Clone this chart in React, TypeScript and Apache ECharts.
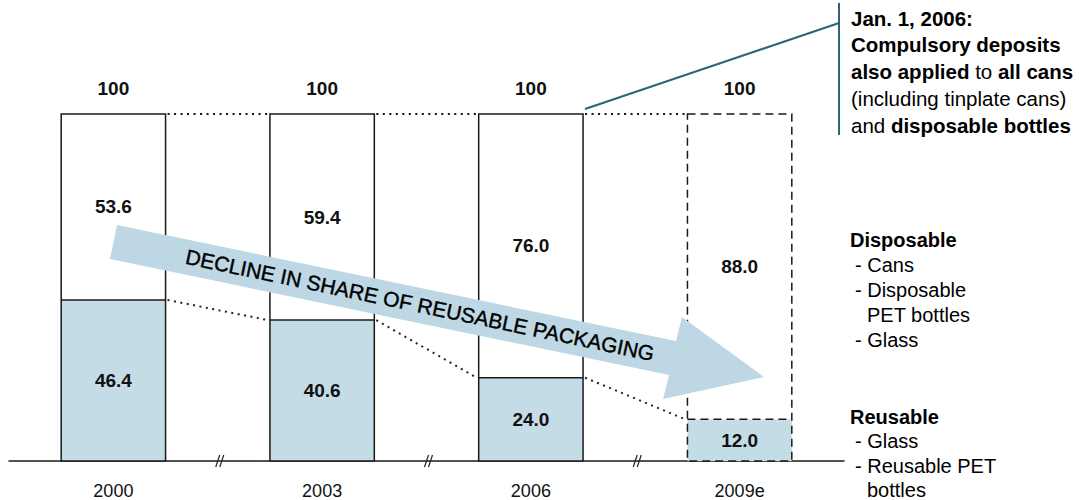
import React, { useEffect, useRef } from "react";
import * as echarts from "echarts";

const categories = ["2000", "2003", "2006", "2009e"];
const reusable = [46.4, 40.6, 24.0, 12.0];
const disposable = [53.6, 59.4, 76.0, 88.0];
const totals = [100, 100, 100, 100];
const estimatedIndex = 3;

const annotationLines = [
  "{b|Jan. 1, 2006:}",
  "{b|Compulsory deposits}",
  "{b|also applied} {n|to} {b|all cans}",
  "{n|(including tinplate cans)}",
  "{n|and} {b|disposable bottles}",
];
const disposableLegend = ["Disposable", "- Cans", "- Disposable", "PET bottles", "- Glass"];
const reusableLegend = ["Reusable", "- Glass", "- Reusable PET", "bottles"];
const arrowText = "DECLINE IN SHARE OF REUSABLE PACKAGING";

const FONT = "'Liberation Sans', Arial, Helvetica, sans-serif";
const BLUE = "#C4DCE6";
const ARROW_BLUE = "#BDD8E4";
const TEAL = "#2B6579";

export default function App() {
  const ref = useRef<HTMLDivElement>(null);

  useEffect(() => {
    if (!ref.current) return;
    const chart = echarts.init(ref.current, undefined, { renderer: "svg" });

    const textEls: any[] = [];
    annotationLines.forEach((t, k) => {
      textEls.push({
        type: "text",
        x: 851,
        y: 18 + k * 26.8,
        z: 20,
        style: {
          text: t,
          fill: "#000",
          fontFamily: FONT,
          fontSize: 20.5,
          verticalAlign: "middle",
          align: "left",
          rich: {
            b: { fontWeight: "bold", fontSize: 20.5, fontFamily: FONT, fill: "#000" },
            n: { fontWeight: "normal", fontSize: 20.5, fontFamily: FONT, fill: "#000" },
          },
        },
      });
    });
    const legendX = (t: string, k: number) => (k === 0 ? 850 : t.startsWith("-") ? 855 : 867);
    const pushLegend = (lines: string[], y0: number, step: number) =>
      lines.forEach((t, k) => {
        textEls.push({
          type: "text",
          x: legendX(t, k),
          y: y0 + k * step,
          z: 20,
          style: {
            text: t,
            fill: "#000",
            fontFamily: FONT,
            fontSize: 20,
            fontWeight: k === 0 ? "bold" : "normal",
            verticalAlign: "middle",
            align: "left",
          },
        });
      });
    pushLegend(disposableLegend, 240, 24.9);
    pushLegend(reusableLegend, 416.5, 24.5);

    const barLabel = {
      show: true,
      position: "inside",
      formatter: (p: any) => Number(p.value).toFixed(1),
      color: "#111",
      fontFamily: FONT,
      fontSize: 19,
      fontWeight: "bold",
    };

    const option: any = {
      animation: false,
      backgroundColor: "#ffffff",
      grid: { left: 9, right: 235, top: 114, bottom: 39, containLabel: false },
      xAxis: {
        type: "category",
        data: categories,
        axisLine: { show: true, lineStyle: { color: "#1a1a1a", width: 1.5 } },
        axisTick: { show: false },
        axisLabel: { color: "#111", fontFamily: FONT, fontSize: 18, margin: 21 },
        splitLine: { show: false },
      },
      yAxis: {
        type: "value",
        min: 0,
        max: 100,
        show: false,
        splitLine: { show: false },
      },
      series: [
        {
          name: "Reusable",
          type: "bar",
          stack: "total",
          barWidth: "50%",
          itemStyle: { color: BLUE, borderWidth: 0 },
          data: reusable,
          label: barLabel,
          z: 2,
        },
        {
          name: "Disposable",
          type: "bar",
          stack: "total",
          barWidth: "50%",
          itemStyle: { color: "#ffffff", borderWidth: 0 },
          data: disposable,
          label: barLabel,
          z: 2,
        },
        {
          name: "Outlines",
          type: "custom",
          data: categories.map((_, i) => [i, 0]),
          encode: { x: 0, y: 1 },
          silent: true,
          z: 3,
          renderItem: (params: any, api: any) => {
            const i = api.value(0);
            const half = (api.size([1, 0])[0] * 0.5) / 2;
            const top = api.coord([i, totals[i]]);
            const mid = api.coord([i, reusable[i]]);
            const bot = api.coord([i, 0]);
            const style: any = {
              stroke: "#1a1a1a",
              lineWidth: 1.5,
              fill: "none",
              lineDash: i === estimatedIndex ? [8, 5] : null,
            };
            return {
              type: "group",
              children: [
                {
                  type: "rect",
                  shape: { x: top[0] - half, y: top[1], width: half * 2, height: bot[1] - top[1] },
                  style,
                },
                {
                  type: "line",
                  shape: { x1: mid[0] - half, y1: mid[1], x2: mid[0] + half, y2: mid[1] },
                  style,
                },
              ],
            };
          },
        },
        {
          name: "Total",
          type: "scatter",
          symbolSize: 0,
          itemStyle: { opacity: 1 },
          data: totals,
          label: {
            show: true,
            position: "top",
            distance: 16,
            formatter: (p: any) => String(p.value),
            color: "#111",
            opacity: 1,
            fontFamily: FONT,
            fontSize: 19,
            fontWeight: "bold",
          },
          silent: true,
          z: 3,
        },
        {
          name: "Connectors",
          type: "custom",
          data: [[0, 0], [1, 0], [2, 0]],
          encode: { x: 0, y: 1 },
          silent: true,
          z: 4,
          renderItem: (params: any, api: any) => {
            const i = api.value(0);
            const half = (api.size([1, 0])[0] * 0.5) / 2;
            const a = api.coord([i, totals[i]]);
            const b = api.coord([i + 1, totals[i + 1]]);
            const c = api.coord([i, reusable[i]]);
            const d = api.coord([i + 1, reusable[i + 1]]);
            const base = api.coord([i, 0]);
            const nextBase = api.coord([i + 1, 0]);
            const mx = (base[0] + nextBase[0]) / 2 + 3;
            const y0 = base[1];
            const dot = { stroke: "#111", lineWidth: 2.2, lineDash: [2, 4.5] };
            return {
              type: "group",
              children: [
                { type: "line", shape: { x1: a[0] + half + 2, y1: a[1], x2: b[0] - half - 2, y2: b[1] }, style: dot },
                { type: "line", shape: { x1: c[0] + half + 2, y1: c[1], x2: d[0] - half - 2, y2: d[1] }, style: { ...dot, stroke: "#222", lineWidth: 2 } },
                { type: "line", shape: { x1: mx - 5, y1: y0 + 6, x2: mx - 1, y2: y0 - 6 }, style: { stroke: "#222", lineWidth: 1.2 } },
                { type: "line", shape: { x1: mx - 1, y1: y0 + 6, x2: mx + 3, y2: y0 - 6 }, style: { stroke: "#222", lineWidth: 1.2 } },
              ],
            };
          },
        },
      ],
      graphic: [
        {
          type: "polygon",
          z: 10,
          shape: {
            points: [
              [117, 225],
              [676, 341],
              [682, 317],
              [764, 377],
              [663, 399],
              [669, 375],
              [110, 259],
            ],
          },
          style: { fill: ARROW_BLUE },
        },
        {
          type: "text",
          x: 420,
          y: 305,
          rotation: -0.205,
          z: 11,
          style: {
            text: arrowText,
            fill: "#000",
            fontFamily: FONT,
            fontSize: 21,
            align: "center",
            verticalAlign: "middle",
            stroke: "#000",
            lineWidth: 0.4,
          },
        },
        {
          type: "polyline",
          z: 12,
          shape: { points: [[585, 109], [839, 23]] },
          style: { stroke: TEAL, lineWidth: 2, fill: "none" },
        },
        {
          type: "line",
          z: 12,
          shape: { x1: 839, y1: 3, x2: 839, y2: 135 },
          style: { stroke: TEAL, lineWidth: 2 },
        },
        ...textEls,
      ],
    };

    chart.setOption(option);
    return () => chart.dispose();
  }, []);

  return (
    <div
      ref={ref}
      style={{ position: "fixed", left: 0, top: 0, width: 1079, height: 500, background: "#fff" }}
    />
  );
}
